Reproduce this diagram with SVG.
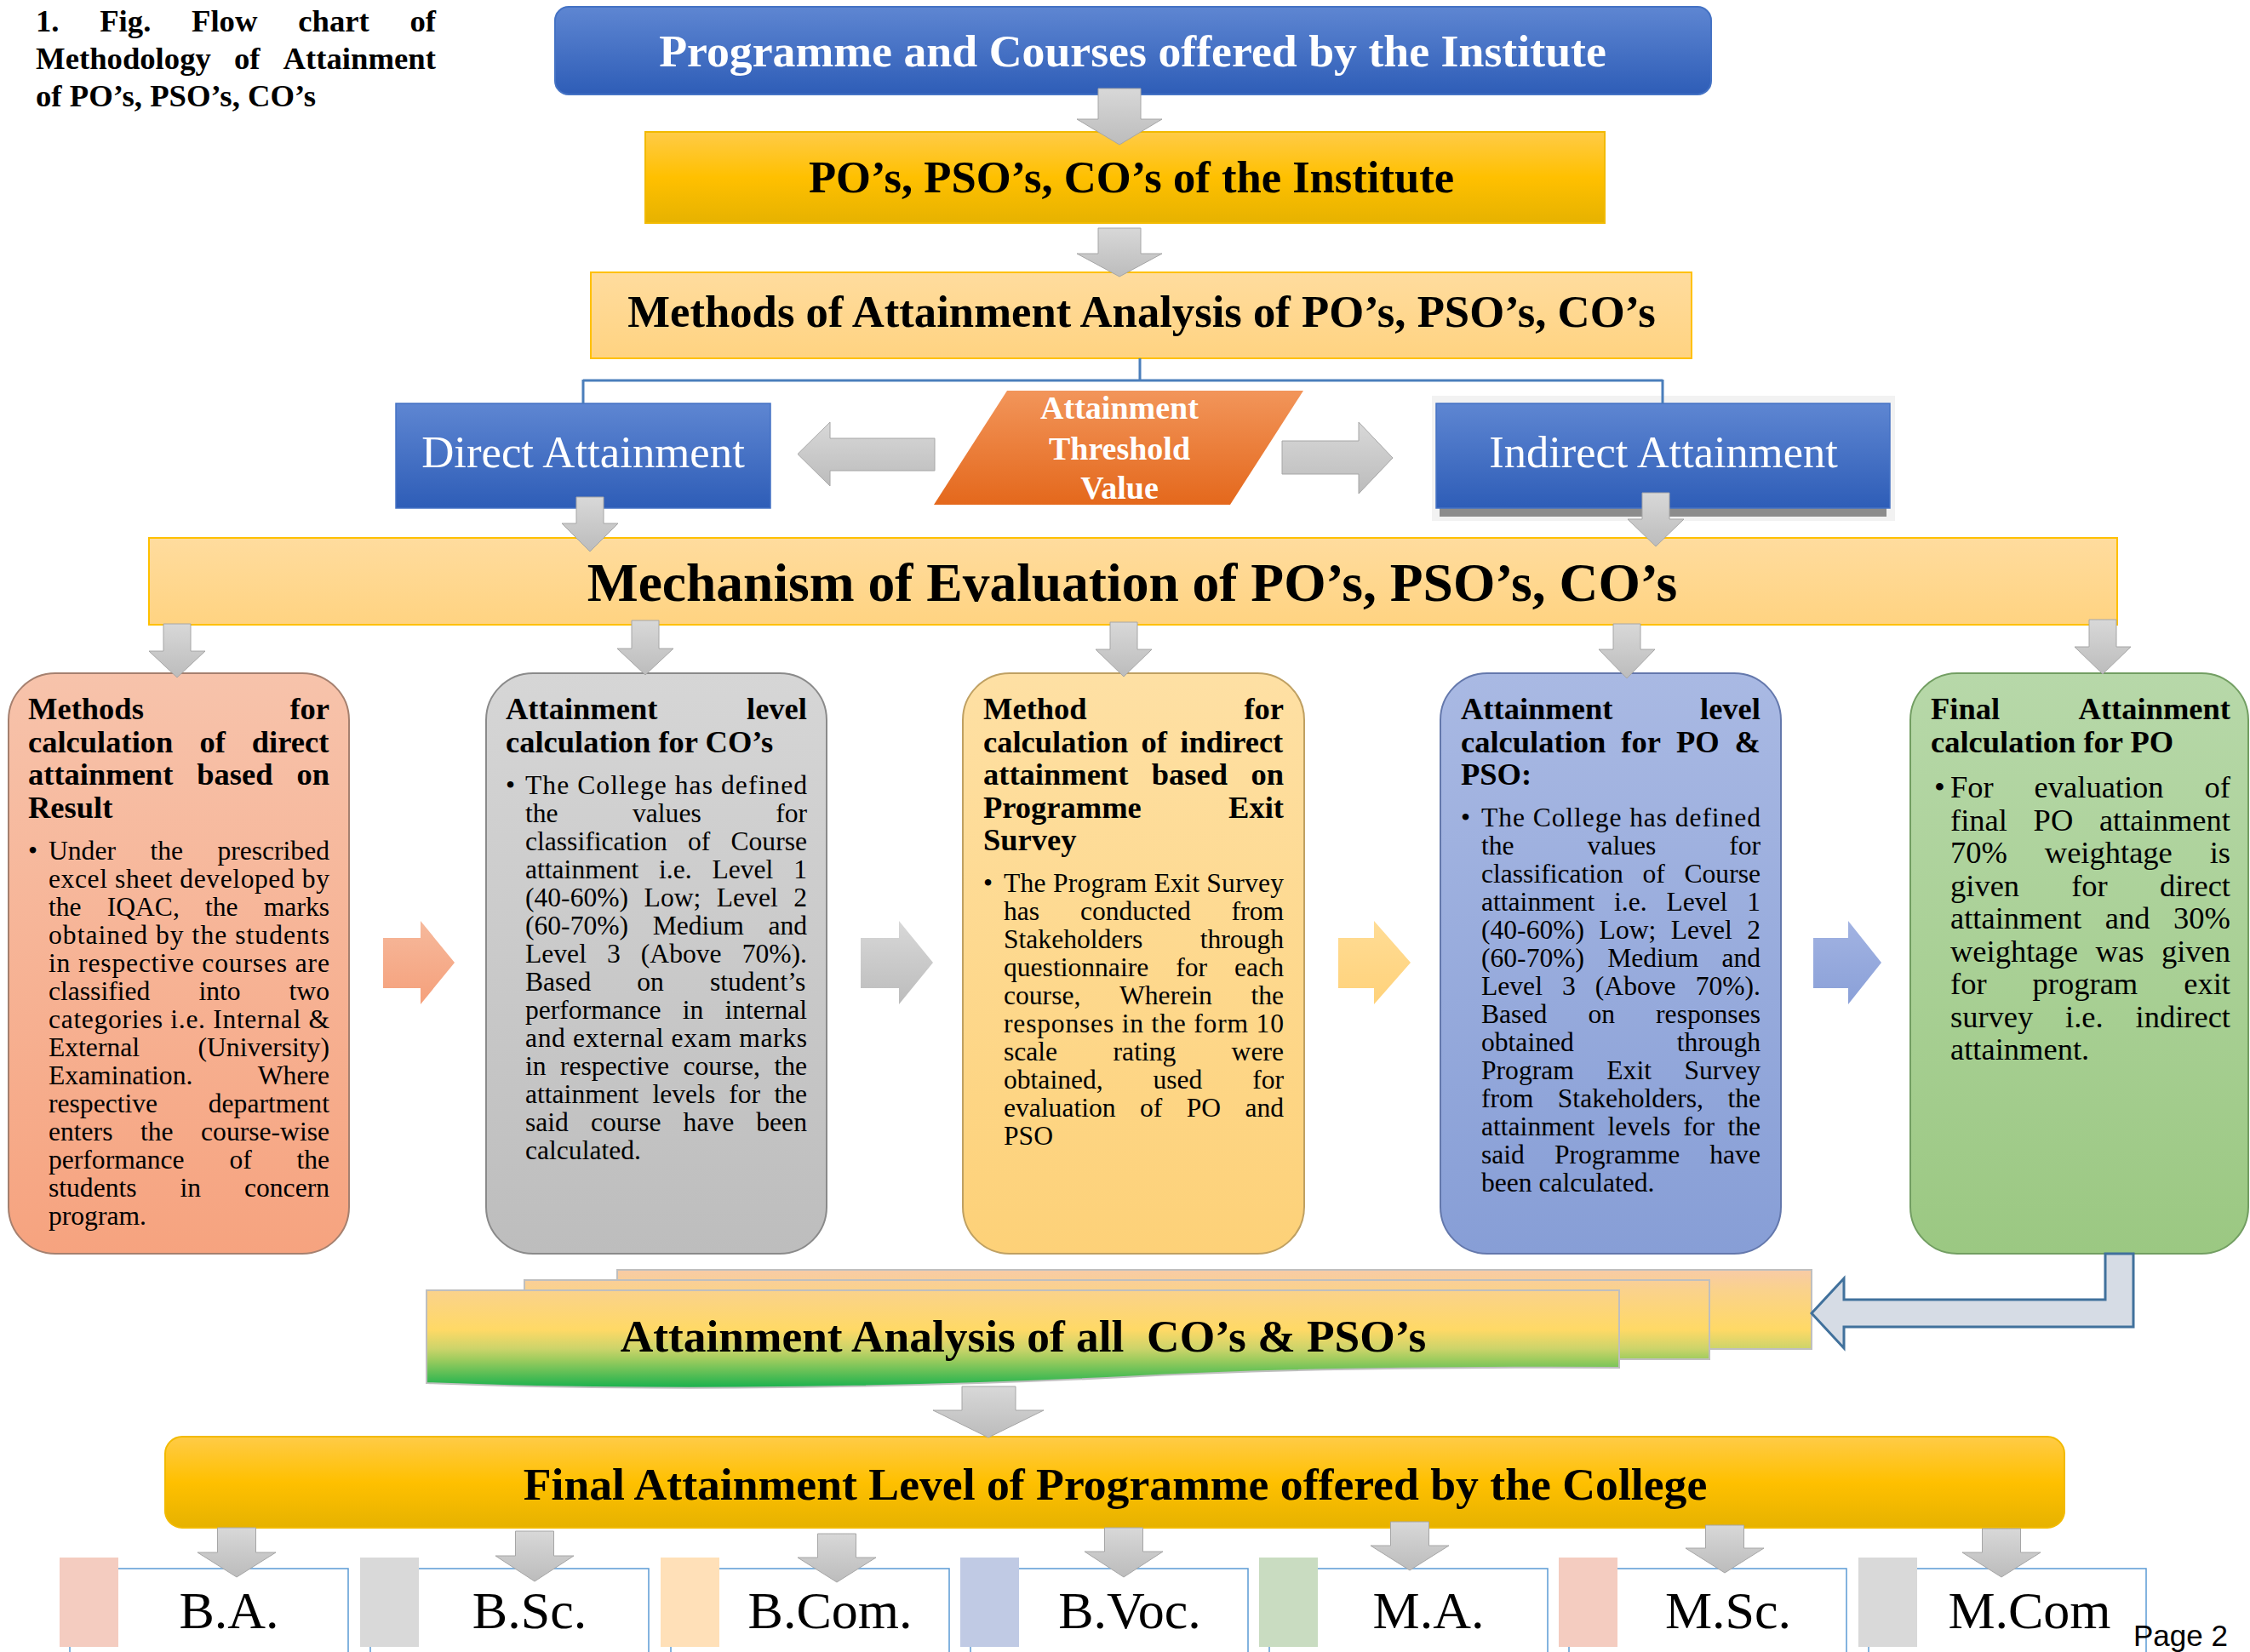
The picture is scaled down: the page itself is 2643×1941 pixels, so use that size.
<svg xmlns="http://www.w3.org/2000/svg" width="2643" height="1941" viewBox="0 0 2643 1941">
<defs>
<linearGradient id="gBlue" x1="0" y1="0" x2="0" y2="1"><stop offset="0" stop-color="#5E86D2"/><stop offset="1" stop-color="#2E5DB7"/></linearGradient>
<linearGradient id="gGold" x1="0" y1="0" x2="0" y2="1"><stop offset="0" stop-color="#FFCB47"/><stop offset="0.5" stop-color="#FFC000"/><stop offset="1" stop-color="#E6B200"/></linearGradient>
<linearGradient id="gLtOr" x1="0" y1="0" x2="0" y2="1"><stop offset="0" stop-color="#FFDC9E"/><stop offset="1" stop-color="#FFD381"/></linearGradient>
<linearGradient id="gThr" x1="0" y1="0" x2="0" y2="1"><stop offset="0" stop-color="#F2955A"/><stop offset="1" stop-color="#E4681C"/></linearGradient>
<linearGradient id="gArr" x1="0" y1="0" x2="0" y2="1"><stop offset="0" stop-color="#D8D8D8"/><stop offset="1" stop-color="#BCBCBC"/></linearGradient>
<linearGradient id="gA" x1="0" y1="0" x2="0" y2="1"><stop offset="0" stop-color="#F7C3AB"/><stop offset="1" stop-color="#F6A37F"/></linearGradient>
<linearGradient id="gB" x1="0" y1="0" x2="0" y2="1"><stop offset="0" stop-color="#D6D6D6"/><stop offset="1" stop-color="#BDBDBD"/></linearGradient>
<linearGradient id="gC" x1="0" y1="0" x2="0" y2="1"><stop offset="0" stop-color="#FEE0A4"/><stop offset="1" stop-color="#FDD178"/></linearGradient>
<linearGradient id="gD" x1="0" y1="0" x2="0" y2="1"><stop offset="0" stop-color="#A9B9E3"/><stop offset="1" stop-color="#879ED6"/></linearGradient>
<linearGradient id="gE" x1="0" y1="0" x2="0" y2="1"><stop offset="0" stop-color="#B7D8A9"/><stop offset="1" stop-color="#9BC882"/></linearGradient>
<linearGradient id="gArA" x1="0" y1="0" x2="0" y2="1"><stop offset="0" stop-color="#F6B99C"/><stop offset="1" stop-color="#F5A07B"/></linearGradient>
<linearGradient id="gArC" x1="0" y1="0" x2="0" y2="1"><stop offset="0" stop-color="#FFDC95"/><stop offset="1" stop-color="#FFD27A"/></linearGradient>
<linearGradient id="gArD" x1="0" y1="0" x2="0" y2="1"><stop offset="0" stop-color="#A2B3E2"/><stop offset="1" stop-color="#8AA0D8"/></linearGradient>
<linearGradient id="gDoc" gradientUnits="userSpaceOnUse" x1="0" y1="1492" x2="0" y2="1632"><stop offset="0" stop-color="#F8CBA6"/><stop offset="0.17" stop-color="#FAD28C"/><stop offset="0.5" stop-color="#FFD966"/><stop offset="0.66" stop-color="#CDD46A"/><stop offset="0.75" stop-color="#9FCC5E"/><stop offset="1" stop-color="#13B04D"/></linearGradient>
</defs>
<style>
.t{font-family:'Liberation Serif','Times New Roman',serif;fill:#000}
.b{font-weight:bold}
.w{fill:#FFFFFF}
.h{font-size:36.5px;font-weight:bold}
.p{font-size:31.6px}
.pe{font-size:36.5px}
.arr{fill:url(#gArr);stroke:#A6A6A6;stroke-width:1}
.box{stroke-width:2}
.item{fill:#FFFFFF;stroke:#5B9BD5;stroke-width:1.5}
.lbl{font-size:62px;text-anchor:middle}
</style>
<rect width="2643" height="1941" fill="#FFFFFF"/>

<g id="caption">
<text class="t b" font-size="36.7" y="37"><tspan x="42">1.</tspan><tspan x="117.2">Fig.</tspan><tspan x="225">Flow</tspan><tspan x="350.2">chart</tspan><tspan x="481.4">of</tspan></text>
<text class="t b" font-size="36.7" y="81"><tspan x="42">Methodology</tspan><tspan x="275">of</tspan><tspan x="332.6">Attainment</tspan></text>
<text class="t b" font-size="36.7" x="42" y="125">of PO’s, PSO’s, CO’s</text>
</g>

<g id="programmes">
<rect x="652" y="8" width="1358" height="103" rx="16" fill="url(#gBlue)" stroke="#4472C4" stroke-width="2"/>
<text class="t b w" font-size="53.8" x="1330.5" y="78" text-anchor="middle">Programme and Courses offered by the Institute</text>
</g>

<g id="pos-institute">
<rect x="758" y="155" width="1127" height="107" fill="url(#gGold)" stroke="#F2BA00" stroke-width="2"/>
<text class="t b" font-size="52.6" x="1329" y="226" text-anchor="middle">PO’s, PSO’s, CO’s of the Institute</text>
</g>

<g id="methods-analysis">
<rect x="694" y="320" width="1293" height="101" fill="url(#gLtOr)" stroke="#FFC000" stroke-width="2"/>
<text class="t b" font-size="52.7" x="1341" y="384" text-anchor="middle">Methods of Attainment Analysis of PO’s, PSO’s, CO’s</text>
</g>

<g id="direct">
<rect x="465" y="474" width="440" height="123" fill="url(#gBlue)" stroke="#4472C4" stroke-width="1.5"/>
<text class="t w" font-size="52.8" x="685" y="549" text-anchor="middle">Direct Attainment</text>
</g>

<g id="threshold">
<polygon points="1183,459 1531,459 1445,593 1097,593" fill="url(#gThr)"/>
<text class="t b w" font-size="38" text-anchor="middle"><tspan x="1315" y="492">Attainment</tspan><tspan x="1315" y="540">Threshold</tspan><tspan x="1315" y="586">Value</tspan></text>
</g>

<g id="indirect">
<rect x="1682" y="465" width="544" height="147" fill="#F2F2F2"/>
<rect x="1691" y="590" width="525" height="17" fill="#8C8C8C"/>
<rect x="1687" y="474" width="533" height="123" fill="url(#gBlue)" stroke="#4472C4" stroke-width="1.5"/>
<text class="t w" font-size="52.5" x="1954" y="549" text-anchor="middle">Indirect Attainment</text>
</g>

<g id="mechanism">
<rect x="175" y="632" width="2312" height="102" fill="url(#gLtOr)" stroke="#FFC000" stroke-width="2"/>
<text class="t b" font-size="63.5" x="1330" y="706" text-anchor="middle">Mechanism of Evaluation of PO’s, PSO’s, CO’s</text>
</g>

<g id="box-direct-method">
<rect class="box" x="10" y="791" width="400" height="682" rx="55" fill="url(#gA)" stroke="#A5806F"/>
<text class="t h" y="845"><tspan x="33">Methods</tspan><tspan x="340.4">for</tspan></text>
<text class="t h" y="883.6"><tspan x="33">calculation</tspan><tspan x="234.4">of</tspan><tspan x="295.8">direct</tspan></text>
<text class="t h" y="922.2"><tspan x="33">attainment</tspan><tspan x="231.3">based</tspan><tspan x="348.5">on</tspan></text>
<text class="t h" x="33" y="960.8">Result</text>
<text class="t p" x="33" y="1010">•</text>
<text class="t p" y="1010"><tspan x="57">Under</tspan><tspan x="176.4">the</tspan><tspan x="255.4">prescribed</tspan></text>
<text class="t p" x="57" y="1043" textLength="330" lengthAdjust="spacing">excel sheet developed by</text>
<text class="t p" y="1076"><tspan x="57">the</tspan><tspan x="125.7">IQAC,</tspan><tspan x="240.9">the</tspan><tspan x="309.8">marks</tspan></text>
<text class="t p" x="57" y="1109" textLength="330" lengthAdjust="spacing">obtained by the students</text>
<text class="t p" x="57" y="1142" textLength="330" lengthAdjust="spacing">in respective courses are</text>
<text class="t p" y="1175"><tspan x="57">classified</tspan><tspan x="233.4">into</tspan><tspan x="339.6">two</tspan></text>
<text class="t p" x="57" y="1208" textLength="330" lengthAdjust="spacing">categories i.e. Internal &amp;</text>
<text class="t p" y="1241"><tspan x="57">External</tspan><tspan x="232.5">(University)</tspan></text>
<text class="t p" y="1274"><tspan x="57">Examination.</tspan><tspan x="302.8">Where</tspan></text>
<text class="t p" y="1307"><tspan x="57">respective</tspan><tspan x="244.8">department</tspan></text>
<text class="t p" y="1340"><tspan x="57">enters</tspan><tspan x="165">the</tspan><tspan x="236.1">course-wise</tspan></text>
<text class="t p" y="1373"><tspan x="57">performance</tspan><tspan x="269.4">of</tspan><tspan x="348.4">the</tspan></text>
<text class="t p" y="1406"><tspan x="57">students</tspan><tspan x="211.5">in</tspan><tspan x="287">concern</tspan></text>
<text class="t p" x="57" y="1439">program.</text>
</g>

<g id="box-co-level">
<rect class="box" x="571" y="791" width="400" height="682" rx="55" fill="url(#gB)" stroke="#8A8A8A"/>
<text class="t h" y="845"><tspan x="594">Attainment</tspan><tspan x="877">level</tspan></text>
<text class="t h" x="594" y="883.6">calculation for CO’s</text>
<text class="t p" x="594" y="933">•</text>
<text class="t p" x="617" y="933" textLength="331" lengthAdjust="spacing">The College has defined</text>
<text class="t p" y="966"><tspan x="617">the</tspan><tspan x="743">values</tspan><tspan x="911.2">for</tspan></text>
<text class="t p" y="999"><tspan x="617">classification</tspan><tspan x="808">of</tspan><tspan x="858.5">Course</tspan></text>
<text class="t p" y="1032"><tspan x="617">attainment</tspan><tspan x="774.1">i.e.</tspan><tspan x="836.4">Level</tspan><tspan x="932.2">1</tspan></text>
<text class="t p" y="1065"><tspan x="617">(40-60%)</tspan><tspan x="756.6">Low;</tspan><tspan x="841.8">Level</tspan><tspan x="932.2">2</tspan></text>
<text class="t p" y="1098"><tspan x="617">(60-70%)</tspan><tspan x="766.7">Medium</tspan><tspan x="902.4">and</tspan></text>
<text class="t p" y="1131"><tspan x="617">Level</tspan><tspan x="713">3</tspan><tspan x="752.8">(Above</tspan><tspan x="871.7">70%).</tspan></text>
<text class="t p" y="1164"><tspan x="617">Based</tspan><tspan x="748.2">on</tspan><tspan x="833.9">student’s</tspan></text>
<text class="t p" y="1197"><tspan x="617">performance</tspan><tspan x="801.8">in</tspan><tspan x="851.5">internal</tspan></text>
<text class="t p" x="617" y="1230" textLength="331" lengthAdjust="spacing">and external exam marks</text>
<text class="t p" y="1263"><tspan x="617">in</tspan><tspan x="658">respective</tspan><tspan x="802.5">course,</tspan><tspan x="909.4">the</tspan></text>
<text class="t p" y="1296"><tspan x="617">attainment</tspan><tspan x="766.5">levels</tspan><tspan x="856.3">for</tspan><tspan x="909.4">the</tspan></text>
<text class="t p" y="1329"><tspan x="617">said</tspan><tspan x="694">course</tspan><tspan x="802.6">have</tspan><tspan x="888.3">been</tspan></text>
<text class="t p" x="617" y="1362">calculated.</text>
</g>

<g id="box-indirect-method">
<rect class="box" x="1131" y="791" width="401" height="682" rx="55" fill="url(#gC)" stroke="#BFA062"/>
<text class="t h" y="845"><tspan x="1155">Method</tspan><tspan x="1461.4">for</tspan></text>
<text class="t h" y="883.6"><tspan x="1155">calculation</tspan><tspan x="1340.6">of</tspan><tspan x="1386.3">indirect</tspan></text>
<text class="t h" y="922.2"><tspan x="1155">attainment</tspan><tspan x="1352.8">based</tspan><tspan x="1469.5">on</tspan></text>
<text class="t h" y="960.8"><tspan x="1155">Programme</tspan><tspan x="1443.1">Exit</tspan></text>
<text class="t h" x="1155" y="999.4">Survey</text>
<text class="t p" x="1155" y="1048">•</text>
<text class="t p" x="1179" y="1048" textLength="329" lengthAdjust="spacing">The Program Exit Survey</text>
<text class="t p" y="1081"><tspan x="1179">has</tspan><tspan x="1268.9">conducted</tspan><tspan x="1446.6">from</tspan></text>
<text class="t p" y="1114"><tspan x="1179">Stakeholders</tspan><tspan x="1409.7">through</tspan></text>
<text class="t p" y="1147"><tspan x="1179">questionnaire</tspan><tspan x="1381.3">for</tspan><tspan x="1450.1">each</tspan></text>
<text class="t p" y="1180"><tspan x="1179">course,</tspan><tspan x="1315">Wherein</tspan><tspan x="1469.4">the</tspan></text>
<text class="t p" x="1179" y="1213" textLength="329" lengthAdjust="spacing">responses in the form 10</text>
<text class="t p" y="1246"><tspan x="1179">scale</tspan><tspan x="1307.6">rating</tspan><tspan x="1446.6">were</tspan></text>
<text class="t p" y="1279"><tspan x="1179">obtained,</tspan><tspan x="1354.5">used</tspan><tspan x="1471.2">for</tspan></text>
<text class="t p" y="1312"><tspan x="1179">evaluation</tspan><tspan x="1339">of</tspan><tspan x="1393.7">PO</tspan><tspan x="1462.4">and</tspan></text>
<text class="t p" x="1179" y="1345">PSO</text>
</g>

<g id="box-po-pso-level">
<rect class="box" x="1692" y="791" width="400" height="682" rx="55" fill="url(#gD)" stroke="#6478AC"/>
<text class="t h" y="845"><tspan x="1716">Attainment</tspan><tspan x="1997">level</tspan></text>
<text class="t h" y="883.6"><tspan x="1716">calculation</tspan><tspan x="1904.3">for</tspan><tspan x="1968.9">PO</tspan><tspan x="2037.6">&amp;</tspan></text>
<text class="t h" x="1716" y="922.2">PSO:</text>
<text class="t p" x="1716" y="971">•</text>
<text class="t p" x="1740" y="971" textLength="328" lengthAdjust="spacing">The College has defined</text>
<text class="t p" y="1004"><tspan x="1740">the</tspan><tspan x="1864.6">values</tspan><tspan x="2031.2">for</tspan></text>
<text class="t p" y="1037"><tspan x="1740">classification</tspan><tspan x="1929.5">of</tspan><tspan x="1978.5">Course</tspan></text>
<text class="t p" y="1070"><tspan x="1740">attainment</tspan><tspan x="1896.1">i.e.</tspan><tspan x="1957.4">Level</tspan><tspan x="2052.2">1</tspan></text>
<text class="t p" y="1103"><tspan x="1740">(40-60%)</tspan><tspan x="1878.6">Low;</tspan><tspan x="1962.8">Level</tspan><tspan x="2052.2">2</tspan></text>
<text class="t p" y="1136"><tspan x="1740">(60-70%)</tspan><tspan x="1888.2">Medium</tspan><tspan x="2022.4">and</tspan></text>
<text class="t p" y="1169"><tspan x="1740">Level</tspan><tspan x="1835">3</tspan><tspan x="1873.8">(Above</tspan><tspan x="1991.7">70%).</tspan></text>
<text class="t p" y="1202"><tspan x="1740">Based</tspan><tspan x="1865.4">on</tspan><tspan x="1945.1">responses</tspan></text>
<text class="t p" y="1235"><tspan x="1740">obtained</tspan><tspan x="1969.7">through</tspan></text>
<text class="t p" y="1268"><tspan x="1740">Program</tspan><tspan x="1887.3">Exit</tspan><tspan x="1978.5">Survey</tspan></text>
<text class="t p" y="1301"><tspan x="1740">from</tspan><tspan x="1829.8">Stakeholders,</tspan><tspan x="2029.4">the</tspan></text>
<text class="t p" y="1334"><tspan x="1740">attainment</tspan><tspan x="1888.5">levels</tspan><tspan x="1977.3">for</tspan><tspan x="2029.4">the</tspan></text>
<text class="t p" y="1367"><tspan x="1740">said</tspan><tspan x="1825.9">Programme</tspan><tspan x="2008.3">have</tspan></text>
<text class="t p" x="1740" y="1400">been calculated.</text>
</g>

<g id="box-final-po">
<rect class="box" x="2244" y="791" width="397" height="682" rx="55" fill="url(#gE)" stroke="#729E62"/>
<text class="t h" y="845"><tspan x="2268">Final</tspan><tspan x="2441.6">Attainment</tspan></text>
<text class="t h" x="2268" y="883.6">calculation for PO</text>
<text class="t pe" x="2272" y="937">•</text>
<text class="t pe" y="937"><tspan x="2291">For</tspan><tspan x="2389.6">evaluation</tspan><tspan x="2589.6">of</tspan></text>
<text class="t pe" y="975.5"><tspan x="2291">final</tspan><tspan x="2388.6">PO</tspan><tspan x="2465.9">attainment</tspan></text>
<text class="t pe" y="1014"><tspan x="2291">70%</tspan><tspan x="2401.8">weightage</tspan><tspan x="2595.7">is</tspan></text>
<text class="t pe" y="1052.5"><tspan x="2291">given</tspan><tspan x="2433.2">for</tspan><tspan x="2536.9">direct</tspan></text>
<text class="t pe" y="1091"><tspan x="2291">attainment</tspan><tspan x="2472.7">and</tspan><tspan x="2553.1">30%</tspan></text>
<text class="t pe" y="1129.5"><tspan x="2291">weightage</tspan><tspan x="2461.6">was</tspan><tspan x="2538.9">given</tspan></text>
<text class="t pe" y="1168"><tspan x="2291">for</tspan><tspan x="2387.6">program</tspan><tspan x="2565.2">exit</tspan></text>
<text class="t pe" y="1206.5"><tspan x="2291">survey</tspan><tspan x="2426.1">i.e.</tspan><tspan x="2508.5">indirect</tspan></text>
<text class="t pe" x="2291" y="1245">attainment.</text>
</g>

<g id="analysis-all">
<rect x="725" y="1492" width="1403" height="93" fill="url(#gDoc)" stroke="#BFBFBF" stroke-width="2"/>
<rect x="616" y="1504" width="1392" height="93" fill="url(#gDoc)" stroke="#BFBFBF" stroke-width="2"/>
<path d="M501,1516 H1902 V1607 C1700,1606 1500,1608 1320,1618 C1000,1634 700,1633 501,1625 Z" fill="url(#gDoc)" stroke="#BFBFBF" stroke-width="2"/>
<text class="t b" font-size="53.4" x="1202" y="1588" text-anchor="middle" xml:space="preserve">Attainment Analysis of all  CO’s &amp; PSO’s</text>
</g>

<g id="final-level">
<rect x="194" y="1688" width="2231" height="107" rx="20" fill="url(#gGold)" stroke="#F2BA00" stroke-width="2"/>
<text class="t b" font-size="53.7" x="1310" y="1762" text-anchor="middle">Final Attainment Level of Programme offered by the College</text>
</g>

<g id="prog-ba"><rect class="item" x="82" y="1843" width="327" height="120"/><rect x="70" y="1830" width="69" height="105" fill="#F4CCC0"/><text class="t lbl" x="269" y="1913">B.A.</text></g>
<g id="prog-bsc"><rect class="item" x="435" y="1843" width="327" height="120"/><rect x="423" y="1830" width="69" height="105" fill="#D9D9D9"/><text class="t lbl" x="622" y="1913">B.Sc.</text></g>
<g id="prog-bcom"><rect class="item" x="788" y="1843" width="327" height="120"/><rect x="776" y="1830" width="69" height="105" fill="#FFE0B8"/><text class="t lbl" x="975" y="1913">B.Com.</text></g>
<g id="prog-bvoc"><rect class="item" x="1140" y="1843" width="326" height="120"/><rect x="1128" y="1830" width="69" height="105" fill="#C0CAE4"/><text class="t lbl" x="1327" y="1913">B.Voc.</text></g>
<g id="prog-ma"><rect class="item" x="1491" y="1843" width="327" height="120"/><rect x="1479" y="1830" width="69" height="105" fill="#C9DCC1"/><text class="t lbl" x="1678" y="1913">M.A.</text></g>
<g id="prog-msc"><rect class="item" x="1843" y="1843" width="326" height="120"/><rect x="1831" y="1830" width="69" height="105" fill="#F4CCC0"/><text class="t lbl" x="2030" y="1913">M.Sc.</text></g>
<g id="prog-mcom"><rect class="item" x="2195" y="1843" width="326" height="120"/><rect x="2183" y="1830" width="69" height="105" fill="#D9D9D9"/><text class="t lbl" x="2384" y="1913">M.Com</text></g>

<g id="page-number">
<text x="2506" y="1934" font-family="'Liberation Sans',Arial,sans-serif" font-size="35" fill="#000">Page 2</text>
</g>

<g id="connectors">
<path d="M1339,421 V447 M685,447 H1953 M685,446 V474 M1953,446 V474" fill="none" stroke="#4A7EBB" stroke-width="3"/>
<polygon class="arr" points="1290,104 1340,104 1340,140 1365,140 1315,170 1265,140 1290,140"/>
<polygon class="arr" points="1290,268 1340,268 1340,298 1365,298 1315,325 1265,298 1290,298"/>
<polygon class="arr" points="1098,515 975,515 975,496 937,533.5 975,571 975,553 1098,553"/>
<polygon class="arr" points="1506,518 1596,518 1596,496 1636,538 1596,580 1596,557 1506,557"/>
<polygon class="arr" points="677,584 709,584 709,615 726,615 693,648 660,615 677,615"/>
<polygon class="arr" points="1929,579 1961,579 1961,610 1978,610 1945,642 1912,610 1929,610"/>
<polygon class="arr" points="192,733 224,733 224,765 241,765 208,796 175,765 192,765"/>
<polygon class="arr" points="742,729 774,729 774,762 791,762 758,793 725,762 742,762"/>
<polygon class="arr" points="1304,731 1336,731 1336,763 1353,763 1320,795 1287,763 1304,763"/>
<polygon class="arr" points="1895,733 1927,733 1927,763 1944,763 1911,797 1878,763 1895,763"/>
<polygon class="arr" points="2454,728 2486,728 2486,760 2503,760 2470,792 2437,760 2454,760"/>
<polygon points="450,1102 494,1102 494,1082 534,1131 494,1180 494,1161 450,1161" fill="url(#gArA)"/>
<polygon points="1011,1102 1056,1102 1056,1082 1096,1131 1056,1180 1056,1161 1011,1161" fill="url(#gArr)"/>
<polygon points="1572,1102 1614,1102 1614,1082 1657,1131 1614,1180 1614,1161 1572,1161" fill="url(#gArC)"/>
<polygon points="2130,1102 2171,1102 2171,1082 2210,1131 2171,1180 2171,1161 2130,1161" fill="url(#gArD)"/>
<polygon points="2506,1473 2506,1559 2166,1559 2166,1584 2128,1543 2166,1502 2166,1527 2473,1527 2473,1473" fill="#D6DCE5" stroke="#41719C" stroke-width="3"/>
<polygon class="arr" points="1130,1629 1193,1629 1193,1657 1226,1657 1161,1689 1096,1657 1130,1657"/>
<polygon class="arr" points="255.5,1795 300.5,1795 300.5,1824 324,1824 278,1853 232,1824 255.5,1824"/>
<polygon class="arr" points="605.5,1799 650.5,1799 650.5,1828 674,1828 628,1858 582,1828 605.5,1828"/>
<polygon class="arr" points="960.5,1802 1005.5,1802 1005.5,1830 1029,1830 983,1859 937,1830 960.5,1830"/>
<polygon class="arr" points="1297.5,1795 1342.5,1795 1342.5,1823 1366,1823 1320,1853 1274,1823 1297.5,1823"/>
<polygon class="arr" points="1633.5,1788 1678.5,1788 1678.5,1816 1702,1816 1656,1845 1610,1816 1633.5,1816"/>
<polygon class="arr" points="2003.5,1792 2048.5,1792 2048.5,1819 2072,1819 2026,1848 1980,1819 2003.5,1819"/>
<polygon class="arr" points="2328.5,1796 2373.5,1796 2373.5,1824 2397,1824 2351,1853 2305,1824 2328.5,1824"/>
</g>
</svg>
